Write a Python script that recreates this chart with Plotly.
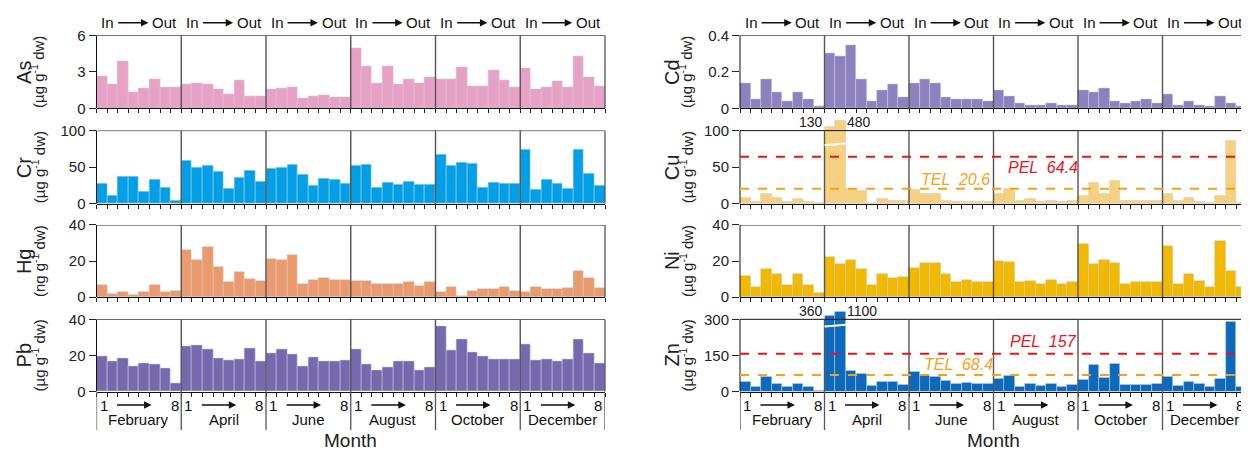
import numpy as np
import plotly.graph_objects as go

W, H = 1249, 458
OFF = 8  # page body margin of the rendered html

months = ["February", "April", "June", "August", "October", "December"]
n_st = 8

as_vals = [2.63, 2.0, 3.85, 1.35, 1.65, 2.4, 1.75, 1.75,
           1.95, 2.1, 1.95, 1.55, 1.13, 2.3, 0.97, 1.03,
           1.55, 1.65, 1.72, 0.86, 1.02, 1.1, 0.94, 0.94,
           4.97, 3.44, 2.04, 3.44, 1.99, 2.42, 2.04, 2.58,
           2.42, 2.42, 3.36, 1.83, 1.83, 3.12, 2.31, 1.75,
           3.28, 1.56, 1.75, 2.23, 1.75, 4.3, 2.58, 1.83]
cr_vals = [27.6, 10.7, 36.9, 37.3, 16.9, 32.9, 22.7, 4.4,
           59.1, 49.8, 52.4, 44.4, 20.4, 35.6, 45.3, 30.2,
           47.6, 49.8, 53.8, 40.0, 24.9, 34.2, 32.4, 27.1,
           51.6, 52.9, 21.8, 28.9, 26.7, 29.8, 26.7, 25.8,
           67.6, 52.4, 56.9, 54.7, 21.8, 28.9, 27.1, 27.1,
           74.2, 18.7, 32.9, 27.1, 20.4, 74.2, 41.3, 25.3]
hg_vals = [6.9, 2.0, 2.8, 1.4, 2.8, 6.9, 3.0, 3.4,
           26.0, 20.6, 27.6, 16.7, 8.7, 13.7, 10.3, 9.2,
           21.3, 20.6, 23.6, 7.1, 9.4, 10.8, 9.8, 9.8,
           9.2, 8.9, 7.1, 7.1, 7.1, 8.7, 6.4, 8.2,
           2.8, 5.9, 0.7, 3.6, 4.8, 4.8, 5.9, 3.6,
           2.8, 5.9, 4.8, 4.6, 5.3, 14.4, 10.5, 5.3]
pb_vals = [19.3, 16.6, 18.4, 14.2, 15.4, 15.2, 13.1, 4.8,
           25.1, 25.8, 23.5, 18.4, 17.3, 17.9, 24.1, 17.0,
           21.1, 23.5, 20.7, 14.0, 18.8, 17.0, 16.6, 17.3,
           23.2, 15.0, 11.7, 13.3, 16.8, 16.5, 12.0, 13.3,
           36.3, 22.8, 28.7, 21.9, 19.3, 17.9, 17.9, 17.9,
           26.0, 17.2, 17.7, 16.8, 17.7, 28.7, 20.9, 15.9]
cd_vals = [0.14, 0.048, 0.161, 0.09, 0.038, 0.088, 0.048, 0.011,
           0.303, 0.287, 0.346, 0.161, 0.039, 0.099, 0.131, 0.063,
           0.14, 0.161, 0.14, 0.063, 0.05, 0.05, 0.05, 0.039,
           0.10, 0.068, 0.029, 0.02, 0.02, 0.029, 0.02, 0.02,
           0.10, 0.09, 0.113, 0.039, 0.029, 0.039, 0.048, 0.029,
           0.079, 0.02, 0.039, 0.02, 0.011, 0.068, 0.029, 0.011]
cu_vals = [8.4, 3.1, 12.9, 8.4, 3.1, 7.1, 3.1, 1.8,
           130, 480, 20.0, 17.8, 1.8, 6.2, 4.4, 4.4,
           19.1, 12.9, 12.9, 4.4, 3.1, 3.1, 3.1, 3.1,
           12.9, 20.0, 4.4, 6.2, 3.1, 4.4, 3.1, 4.4,
           10.7, 28.4, 14.2, 31.6, 4.4, 4.4, 4.4, 4.4,
           13.3, 4.4, 8.4, 3.1, 1.8, 10.2, 86.2, 1.8]
ni_vals = [11.6, 5.7, 15.5, 12.8, 6.6, 12.8, 6.6, 2.5,
           22.4, 18.5, 20.8, 15.6, 6.6, 12.8, 10.5, 11.0,
           16.4, 18.8, 18.8, 12.8, 8.4, 9.8, 8.2, 8.2,
           20.1, 19.6, 8.2, 9.2, 7.1, 9.8, 7.6, 8.7,
           29.3, 18.3, 20.8, 19.0, 7.6, 8.7, 8.7, 8.2,
           28.1, 7.1, 12.8, 8.9, 5.9, 30.9, 14.4, 5.9]
zn_vals = [41, 21, 60, 31, 21, 33, 19, 5,
           360, 1100, 85, 74, 24, 42, 41, 29,
           84, 65, 60, 46, 31, 37, 32, 32,
           54, 64, 21, 31, 25, 31, 21, 27,
           49, 111, 58, 114, 27, 29, 27, 32,
           60, 25, 40, 31, 21, 53, 288, 21]

cu_tel, cu_pel = 20.6, 64.4
zn_tel, zn_pel = 68.4, 157

FONT = "Liberation Sans Narrow, Arial Narrow, Liberation Sans, Arial, sans-serif"

unit_ug = "(µg g<sup>-1</sup> dw)"
unit_ng = "(ng g<sup>-1</sup> dw)"

panels = [
    dict(name="As", unit=unit_ug, vals=as_vals, color="#E8A1C6", ymax=6, ticks=[0, 3, 6], col=0, row=0),
    dict(name="Cr", unit=unit_ug, vals=cr_vals, color="#00A0E8", ymax=100, ticks=[0, 50, 100], col=0, row=1),
    dict(name="Hg", unit=unit_ng, vals=hg_vals, color="#EB9A6E", ymax=40, ticks=[0, 20, 40], col=0, row=2),
    dict(name="Pb", unit=unit_ug, vals=pb_vals, color="#7769B0", ymax=40, ticks=[0, 20, 40], col=0, row=3),
    dict(name="Cd", unit=unit_ug, vals=cd_vals, color="#8D81BF", ymax=0.4, ticks=[0, 0.2, 0.4], col=1, row=0),
    dict(name="Cu", unit=unit_ug, vals=cu_vals, color="#F8D17F", ymax=100, ticks=[0, 50, 100], col=1, row=1,
         tel=cu_tel, pel=cu_pel, brk=0.8, head=0.16, tel_lab=(19.9, 33), pel_lab=(28.2, 50)),
    dict(name="Ni", unit=unit_ug, vals=ni_vals, color="#F1B900", ymax=40, ticks=[0, 20, 40], col=1, row=2),
    dict(name="Zn", unit=unit_ug, vals=zn_vals, color="#0B69BE", ymax=300, ticks=[0, 150, 300], col=1, row=3,
         tel=zn_tel, pel=zn_pel, brk=0.9, head=0.16, tel_lab=(20.2, 113), pel_lab=(28.2, 207)),
]

col_px = [(96.5, 605.0), (740.0, 1247.0)]
title_px = [(24, 38), (672, 686)]
row_px = [(27, 103), (126, 202), (224, 299), (322, 397)]


def fx(px):
    return (px - OFF) / W


def fy(px):
    return 1 - (px - OFF) / H


fig = go.Figure()
shapes = []
annos = []
layout = {}


def txt(**kw):
    d = dict(showarrow=False, xanchor="center", yanchor="middle", borderpad=0)
    d.update(kw)
    annos.append(d)


for i, p in enumerate(panels):
    k = i + 1
    suf = "" if k == 1 else str(k)
    xa, ya = "x" + suf, "y" + suf
    xname, yname = "xaxis" + suf, "yaxis" + suf
    x0p, x1p = col_px[p["col"]]
    tp, bp = row_px[p["row"]]
    head = p.get("head", 0.0)
    ymax = p["ymax"]
    rtop = ymax * (1 + head)
    top_px = tp - head * (bp - tp)
    vals = np.array(p["vals"], dtype=float)
    disp = np.where(vals > ymax, ymax * (1.04 + 0.055 * np.log(np.maximum(vals, ymax) / ymax)), vals)
    xs = np.arange(len(vals))

    fig.add_trace(go.Bar(x=xs, y=disp, width=1.0, marker=dict(color=p["color"],
                         line=dict(color="rgba(205,205,205,0.75)", width=0.7)),
                         xaxis=xa, yaxis=ya, showlegend=False, hoverinfo="skip"))

    layout[xname] = dict(domain=[fx(x0p), fx(x1p)], range=[-0.5, 47.5], anchor=ya,
                         tickvals=[j - 0.5 for j in range(49)], ticktext=[""] * 49,
                         ticks="outside", ticklen=4, tickwidth=1, tickcolor="#222",
                         showline=True, linecolor="#111", linewidth=1,
                         showgrid=False, zeroline=False, fixedrange=True)
    layout[yname] = dict(domain=[fy(bp), fy(top_px)], range=[0, rtop], anchor=xa,
                         tickvals=p["ticks"], ticktext=[("%g" % t) for t in p["ticks"]],
                         ticks="outside", ticklen=7, tickwidth=1, tickcolor="#222",
                         tickfont=dict(family=FONT, size=15, color="#222"),
                         showline=False, showgrid=False, zeroline=False, fixedrange=True)

    # frame
    shapes.append(dict(type="line", xref=f"{xa} domain", yref=ya, x0=0, x1=0, y0=0, y1=ymax,
                       line=dict(color="#111", width=1)))
    shapes.append(dict(type="line", xref=f"{xa} domain", yref=ya, x0=0, x1=1, y0=ymax, y1=ymax,
                       line=dict(color="#111", width=1)))
    shapes.append(dict(type="line", xref=f"{xa} domain", yref=ya, x0=1, x1=1, y0=0, y1=ymax,
                       line=dict(color="#555", width=1.3)))
    for m in range(1, 6):
        shapes.append(dict(type="line", xref=xa, yref=f"{ya} domain", x0=8 * m - 0.5, x1=8 * m - 0.5,
                           y0=0, y1=ymax / rtop, line=dict(color="#555", width=1.4)))

    # reference lines
    if "tel" in p:
        for key, col in (("pel", "#E8141C"), ("tel", "#F4A21C")):
            shapes.append(dict(type="line", xref=f"{xa} domain", yref=ya, x0=0, x1=1, y0=p[key], y1=p[key],
                               line=dict(color=col, width=2, dash="dash"), layer="above"))
            lx, ly = p[key + "_lab"]
            txt(x=lx, y=ly, xref=xa, yref=ya, text=f"<i>{key.upper()}  {p[key]:g}</i>",
                font=dict(family=FONT, size=16, color=col))
        # axis breaks and value labels
        big = [j for j in range(len(vals)) if vals[j] > ymax]
        if big:
            b = p["brk"] * ymax
            shapes.append(dict(type="line", xref=xa, yref=ya, x0=big[0] - 0.5, x1=big[-1] + 0.5,
                               y0=b, y1=b + 0.025 * ymax, line=dict(color="white", width=2)))
            lab_y = fy(tp - 9)
            txt(x=big[0] - 0.55, y=lab_y, xref=xa, yref="paper", xanchor="right",
                text="%g" % vals[big[0]], font=dict(family=FONT, size=14, color="#222"))
            txt(x=big[-1] + 0.55, y=lab_y, xref=xa, yref="paper", xanchor="left",
                text="%g" % vals[big[-1]], font=dict(family=FONT, size=14, color="#222"))

    # y titles
    ex, ux = title_px[p["col"]]
    cy = fy((tp + bp) / 2)
    txt(x=fx(ex), y=cy, xref="paper", yref="paper", textangle=-90,
        text=p["name"], font=dict(family=FONT, size=20, color="#222"))
    txt(x=fx(ux), y=cy, xref="paper", yref="paper", textangle=-90,
        text=p["unit"], font=dict(family=FONT, size=15, color="#222"))

    # top labels
    if p["row"] == 0:
        ty = fy(tp - 13)
        for m in range(6):
            s = 8 * m
            txt(x=s - 0.15, y=ty, xref=xa, yref="paper", xanchor="left",
                text="In", font=dict(family=FONT, size=15, color="#111"))
            txt(x=s + 7.2, y=ty, xref=xa, yref="paper", xanchor="right",
                text="Out", font=dict(family=FONT, size=15, color="#111"))
            annos.append(dict(x=s + 4.4, y=ty, xref=xa, yref="paper", ax=s + 1.4, ay=0,
                              axref=xa, ayref="pixel", text="", showarrow=True,
                              arrowhead=2, arrowsize=1, arrowwidth=1.5, arrowcolor="#111"))
    # bottom labels
    if p["row"] == 3:
        ny = fy(bp + 14)
        my = fy(bp + 29)
        for m in range(6):
            s = 8 * m
            txt(x=s - 0.3, y=ny, xref=xa, yref="paper", xanchor="left",
                text="1", font=dict(family=FONT, size=15, color="#111"))
            txt(x=s + 7.35, y=ny, xref=xa, yref="paper", xanchor="right",
                text="8", font=dict(family=FONT, size=15, color="#111"))
            annos.append(dict(x=s + 4.7, y=ny, xref=xa, yref="paper", ax=s + 1.3, ay=0,
                              axref=xa, ayref="pixel", text="", showarrow=True,
                              arrowhead=2, arrowsize=1, arrowwidth=1.5, arrowcolor="#111"))
            txt(x=s + 3.5, y=my, xref=xa, yref="paper",
                text=months[m], font=dict(family=FONT, size=15, color="#111"))
        for m in range(7):
            shapes.append(dict(type="line", xref=xa, yref="paper", x0=8 * m - 0.5, x1=8 * m - 0.5,
                               y0=fy(437), y1=fy(bp), line=dict(color="#555", width=1.3)))
        txt(x=fx((x0p + x1p) / 2), y=fy(448), xref="paper", yref="paper",
            text="Month", font=dict(family=FONT, size=19, color="#222"))

fig.update_layout(width=W, height=H, margin=dict(l=0, r=0, t=0, b=0), bargap=0,
                  paper_bgcolor="white", plot_bgcolor="white", shapes=shapes, annotations=annos,
                  font=dict(family=FONT, color="#222"), **layout)

fig.write_html("out.html")
